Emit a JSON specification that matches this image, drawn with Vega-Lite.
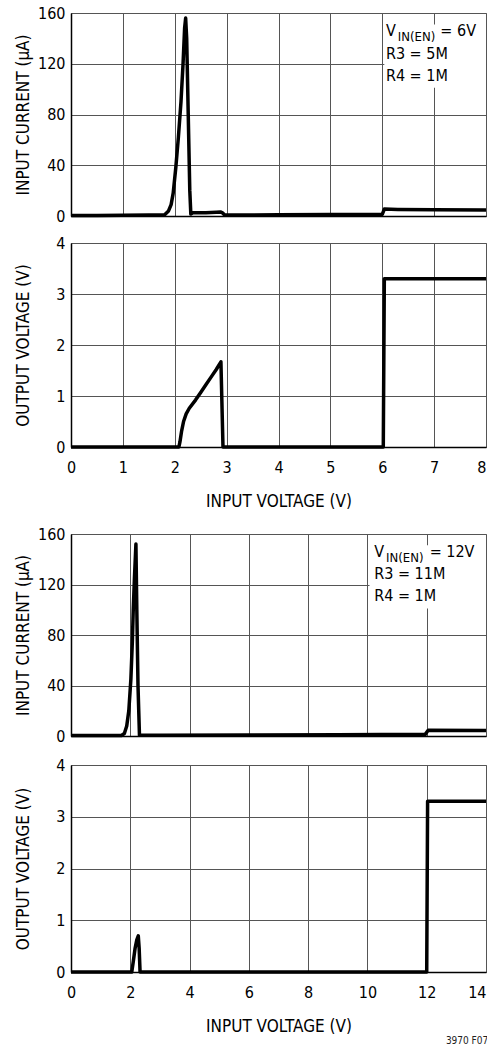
{
  "$schema": "https://vega.github.io/schema/vega-lite/v6.json",
  "background": "white",
  "padding": {"left": 13, "top": 4, "right": 0, "bottom": 0},
  "title": {"text": "3970 F07", "orient": "bottom", "anchor": "end", "fontSize": 10, "fontWeight": "normal", "font": "DejaVu Sans Condensed", "color": "#222", "offset": 1},
  "config": {
    "font": "DejaVu Sans Condensed",
    "view": {"stroke": "#888", "strokeWidth": 1},
    "axis": {
      "grid": true, "gridColor": "#555", "gridWidth": 1, "gridOpacity": 1,
      "domainColor": "#000", "domainWidth": 1.5,
      "ticks": false, "tickSize": 0,
      "labelFont": "DejaVu Sans Condensed", "labelFontSize": 16, "labelColor": "#000",
      "titleFont": "DejaVu Sans Condensed", "titleFontSize": 17, "titleFontWeight": "normal", "titleColor": "#000"
    },
    "axisY": {"labelPadding": 6, "titleX": -48, "titleBaseline": "middle"},
    "axisX": {"labelPadding": 12, "titlePadding": 18, "labelFlush": false}
  },
  "datasets": {
    "cur6": [
      {"v": 0, "i": 0.3}, {"v": 0.5, "i": 0.3}, {"v": 1, "i": 0.5}, {"v": 1.5, "i": 0.7}, {"v": 1.8, "i": 0.8},
      {"v": 1.88, "i": 4}, {"v": 1.93, "i": 9}, {"v": 1.97, "i": 18}, {"v": 2.02, "i": 38}, {"v": 2.07, "i": 62},
      {"v": 2.12, "i": 90}, {"v": 2.16, "i": 120}, {"v": 2.19, "i": 148}, {"v": 2.21, "i": 156}, {"v": 2.23, "i": 140},
      {"v": 2.26, "i": 80}, {"v": 2.29, "i": 20}, {"v": 2.31, "i": 1.5}, {"v": 2.35, "i": 2.5}, {"v": 2.6, "i": 2.6},
      {"v": 2.8, "i": 3}, {"v": 2.88, "i": 3.2}, {"v": 2.92, "i": 2.5}, {"v": 2.96, "i": 0.8}, {"v": 3.5, "i": 0.8},
      {"v": 4, "i": 0.9}, {"v": 5, "i": 1.1}, {"v": 6.0, "i": 1.2}, {"v": 6.04, "i": 5.5}, {"v": 6.3, "i": 5.2},
      {"v": 7, "i": 4.9}, {"v": 8, "i": 4.8}
    ],
    "out6": [
      {"v": 0, "o": 0}, {"v": 2.08, "o": 0}, {"v": 2.1, "o": 0.1}, {"v": 2.13, "o": 0.3}, {"v": 2.17, "o": 0.5},
      {"v": 2.22, "o": 0.65}, {"v": 2.28, "o": 0.76}, {"v": 2.4, "o": 0.92}, {"v": 2.5, "o": 1.07}, {"v": 2.6, "o": 1.22},
      {"v": 2.7, "o": 1.37}, {"v": 2.8, "o": 1.52}, {"v": 2.89, "o": 1.67}, {"v": 2.93, "o": 0}, {"v": 6.02, "o": 0},
      {"v": 6.04, "o": 3.3}, {"v": 8, "o": 3.3}
    ],
    "cur12": [
      {"v": 0, "i": 0.3}, {"v": 1, "i": 0.3}, {"v": 1.7, "i": 0.4}, {"v": 1.8, "i": 2}, {"v": 1.88, "i": 8},
      {"v": 1.95, "i": 20}, {"v": 2.02, "i": 45}, {"v": 2.07, "i": 75}, {"v": 2.1, "i": 100}, {"v": 2.14, "i": 125},
      {"v": 2.19, "i": 152}, {"v": 2.22, "i": 100}, {"v": 2.26, "i": 40}, {"v": 2.31, "i": 0.5}, {"v": 3, "i": 0.5},
      {"v": 6, "i": 0.8}, {"v": 9, "i": 1.0}, {"v": 11.95, "i": 1.3}, {"v": 12.05, "i": 4.5}, {"v": 14, "i": 4.3}
    ],
    "out12": [
      {"v": 0, "o": 0}, {"v": 2.05, "o": 0}, {"v": 2.1, "o": 0.2}, {"v": 2.16, "o": 0.45}, {"v": 2.22, "o": 0.62},
      {"v": 2.27, "o": 0.7}, {"v": 2.3, "o": 0.45}, {"v": 2.33, "o": 0}, {"v": 12.0, "o": 0}, {"v": 12.03, "o": 3.3},
      {"v": 14, "o": 3.3}
    ],
    "box6": [{"v": 6.04, "v2": 8, "i": 101, "i2": 151}],
    "note6": [
      {"v": 6.07, "i": 141.6, "t": "V"}, {"v": 7.12, "i": 141.6, "t": "= 6V"},
      {"v": 6.07, "i": 123.7, "t": "R3 = 5M"}, {"v": 6.07, "i": 106.6, "t": "R4 = 1M"}
    ],
    "sub6": [{"v": 6.3, "i": 137.6, "t": "IN(EN)"}],
    "box12": [{"v": 10.07, "v2": 14, "i": 101, "i2": 151}],
    "note12": [
      {"v": 10.23, "i": 141.5, "t": "V"}, {"v": 12.1, "i": 141.5, "t": "= 12V"},
      {"v": 10.23, "i": 124.4, "t": "R3 = 11M"}, {"v": 10.23, "i": 107.2, "t": "R4 = 1M"}
    ],
    "sub12": [{"v": 10.63, "i": 137.6, "t": "IN(EN)"}]
  },
  "spacing": 15,
  "vconcat": [
    {
      "spacing": 9,
      "vconcat": [
        {
          "width": 415, "height": 203,
          "encoding": {
            "x": {"field": "v", "type": "quantitative", "scale": {"domain": [0, 8], "nice": false, "zero": false},
                  "axis": {"values": [0, 1, 2, 3, 4, 5, 6, 7, 8], "labels": false, "title": null}},
            "y": {"field": "i", "type": "quantitative", "scale": {"domain": [0, 160], "nice": false},
                  "axis": {"values": [0, 40, 80, 120, 160], "title": "INPUT CURRENT (µA)"}}
          },
          "layer": [
            {"data": {"name": "box6"}, "mark": {"type": "rect", "fill": "white"},
             "encoding": {"x2": {"field": "v2"}, "y2": {"field": "i2"}}},
            {"data": {"name": "cur6"}, "mark": {"type": "line", "color": "black", "strokeWidth": 3.5, "strokeJoin": "round"}},
            {"data": {"name": "note6"}, "mark": {"type": "text", "align": "left", "baseline": "alphabetic", "fontSize": 16, "color": "black"},
             "encoding": {"text": {"field": "t"}}},
            {"data": {"name": "sub6"}, "mark": {"type": "text", "align": "left", "baseline": "alphabetic", "fontSize": 13, "color": "black"},
             "encoding": {"text": {"field": "t"}}}
          ]
        },
        {
          "width": 415, "height": 204,
          "data": {"name": "out6"},
          "mark": {"type": "line", "color": "black", "strokeWidth": 3.5, "strokeJoin": "round"},
          "encoding": {
            "x": {"field": "v", "type": "quantitative", "scale": {"domain": [0, 8], "nice": false, "zero": false},
                  "axis": {"values": [0, 1, 2, 3, 4, 5, 6, 7, 8], "title": "INPUT VOLTAGE (V)",
                           "labelAlign": {"condition": {"test": "datum.value == 8", "value": "right"}, "value": "center"}}},
            "y": {"field": "o", "type": "quantitative", "scale": {"domain": [0, 4], "nice": false},
                  "axis": {"values": [0, 1, 2, 3, 4], "title": "OUTPUT VOLTAGE (V)"}}
          }
        }
      ]
    },
    {
      "spacing": 11,
      "vconcat": [
        {
          "width": 415, "height": 202,
          "encoding": {
            "x": {"field": "v", "type": "quantitative", "scale": {"domain": [0, 14], "nice": false, "zero": false},
                  "axis": {"values": [0, 2, 4, 6, 8, 10, 12, 14], "labels": false, "title": null}},
            "y": {"field": "i", "type": "quantitative", "scale": {"domain": [0, 160], "nice": false},
                  "axis": {"values": [0, 40, 80, 120, 160], "title": "INPUT CURRENT (µA)"}}
          },
          "layer": [
            {"data": {"name": "box12"}, "mark": {"type": "rect", "fill": "white"},
             "encoding": {"x2": {"field": "v2"}, "y2": {"field": "i2"}}},
            {"data": {"name": "cur12"}, "mark": {"type": "line", "color": "black", "strokeWidth": 3.5, "strokeJoin": "round"}},
            {"data": {"name": "note12"}, "mark": {"type": "text", "align": "left", "baseline": "alphabetic", "fontSize": 16, "color": "black"},
             "encoding": {"text": {"field": "t"}}},
            {"data": {"name": "sub12"}, "mark": {"type": "text", "align": "left", "baseline": "alphabetic", "fontSize": 13, "color": "black"},
             "encoding": {"text": {"field": "t"}}}
          ]
        },
        {
          "width": 415, "height": 207,
          "data": {"name": "out12"},
          "mark": {"type": "line", "color": "black", "strokeWidth": 3.5, "strokeJoin": "round"},
          "encoding": {
            "x": {"field": "v", "type": "quantitative", "scale": {"domain": [0, 14], "nice": false, "zero": false},
                  "axis": {"values": [0, 2, 4, 6, 8, 10, 12, 14], "title": "INPUT VOLTAGE (V)",
                           "labelAlign": {"condition": {"test": "datum.value == 14", "value": "right"}, "value": "center"}}},
            "y": {"field": "o", "type": "quantitative", "scale": {"domain": [0, 4], "nice": false},
                  "axis": {"values": [0, 1, 2, 3, 4], "title": "OUTPUT VOLTAGE (V)"}}
          }
        }
      ]
    }
  ]
}
